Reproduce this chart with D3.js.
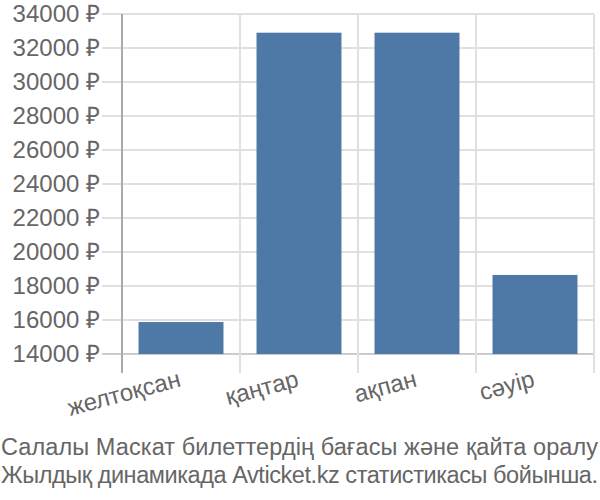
<!DOCTYPE html>
<html><head><meta charset="utf-8">
<script src="https://cdn.jsdelivr.net/npm/d3@7"></script>
<style>body{margin:0;background:#fff}svg{display:block}text{font-family:"Liberation Sans",Arial,sans-serif;fill:#666}</style>
</head><body><svg id="c" width="600" height="500"></svg>
<script>
const categories = ["желтоқсан","қаңтар","ақпан","сәуір"];
const prices = [15880, 32900, 32900, 18650];
const yTicks = [14000,16000,18000,20000,22000,24000,26000,28000,30000,32000,34000];
const titleLines = ["Салалы Маскат билеттердің бағасы және қайта оралу","Жылдық динамикада Avticket.kz статистикасы бойынша."];

const svg = d3.select("#c");
const m = {l:122, r:594, t:14, b:354};
const x = d3.scaleBand().domain(categories).range([m.l, m.r]).paddingInner(0.28).paddingOuter(0.14);
const y = d3.scaleLinear().domain([14000, 34000]).range([m.b, m.t]);
const bw = (m.r - m.l) / categories.length;

// horizontal grid
svg.append("g").selectAll("line").data(yTicks).join("line")
  .attr("x1", m.l - 20).attr("x2", m.r)
  .attr("y1", d => y(d)).attr("y2", d => y(d))
  .attr("stroke", d => d === 14000 ? "#ccc" : "#e0e0e0").attr("stroke-width", 2);
// vertical grid
const vx = d3.range(categories.length + 1).map(i => m.l + i * bw);
svg.append("g").selectAll("line").data(vx).join("line")
  .attr("x1", d => d).attr("x2", d => d)
  .attr("y1", m.t).attr("y2", m.b + 19)
  .attr("stroke", (d,i) => i === 0 ? "#aaa" : "#e0e0e0").attr("stroke-width", 2);

// bars
svg.append("g").selectAll("rect").data(prices).join("rect")
  .attr("x", (d,i) => x(categories[i])).attr("width", x.bandwidth())
  .attr("y", d => y(d)).attr("height", d => y(14000) - y(d))
  .attr("fill", "#4e79a7");

// y labels
svg.append("g").selectAll("text").data(yTicks).join("text")
  .attr("x", 100).attr("y", d => y(d))
  .attr("dy", "0.35em")
  .attr("text-anchor", "end").attr("font-size", 24)
  .text(d => d + " ₽");

// x labels
svg.append("g").selectAll("text").data(categories).join("text")
  .attr("text-anchor", "end").attr("font-size", 24)
  .attr("transform", d => `translate(${x(d) + x.bandwidth()/2 + 1},${m.b + 32}) rotate(-15)`)
  .text(d => d);

// title
svg.append("g").selectAll("text").data(titleLines).join("text")
  .attr("x", 1).attr("y", (d,i) => 455 + i * 28)
  .attr("font-size", 23.5)
  .attr("textLength", 597).attr("lengthAdjust", "spacing")
  .text(d => d);
</script></body></html>
